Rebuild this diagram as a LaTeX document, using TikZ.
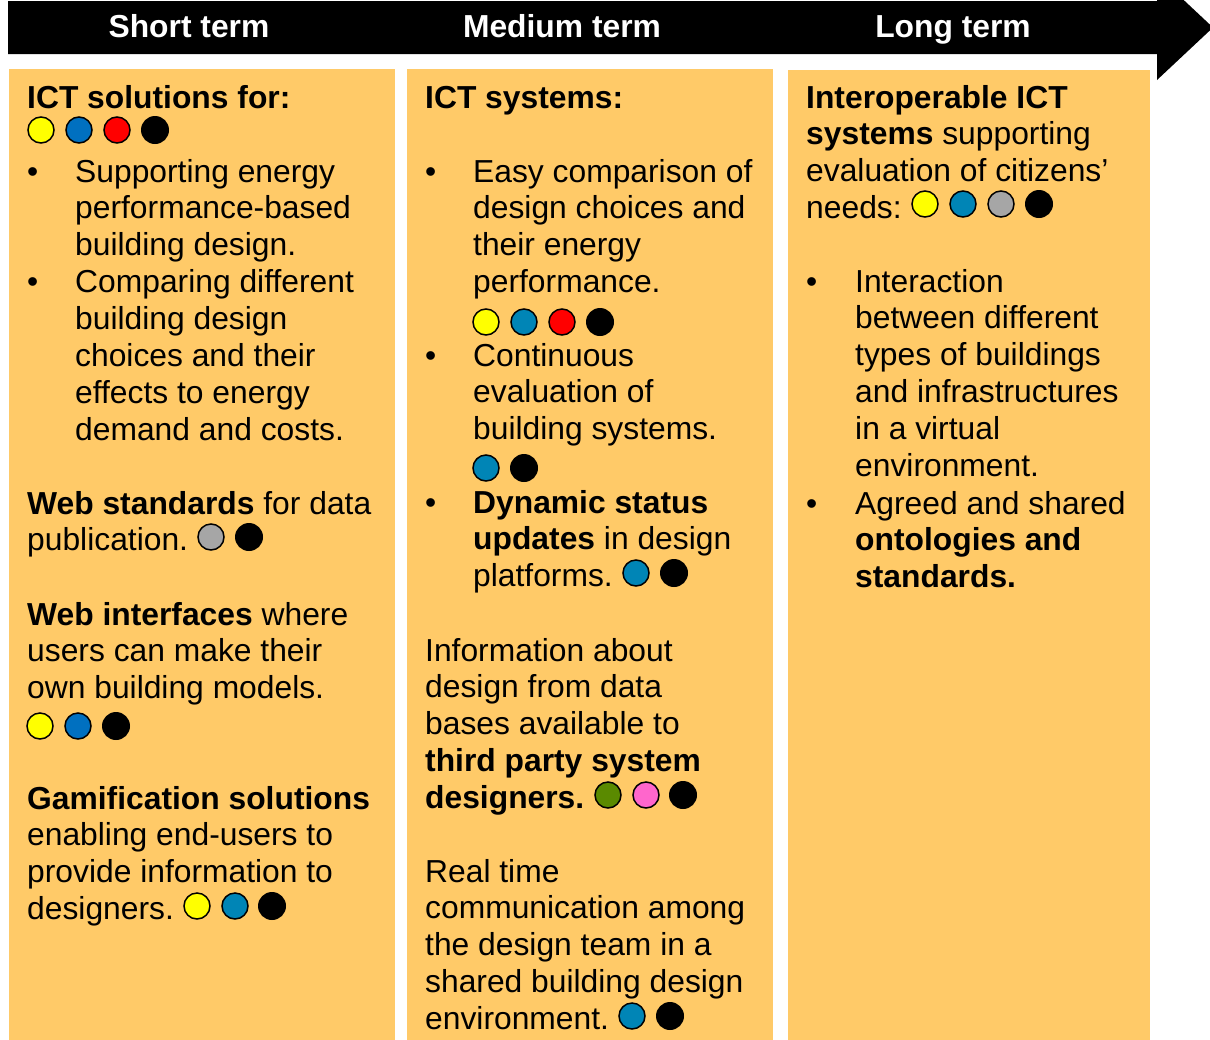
\documentclass[tikz,border=0pt]{standalone}
\usepackage{fontspec}
\setmainfont{Liberation Sans}
\definecolor{colbg}{HTML}{FFCA68}
\definecolor{cyel}{HTML}{FFFF00}
\definecolor{cblueA}{HTML}{0070C0}
\definecolor{cblueB}{HTML}{0085B6}
\definecolor{cred}{HTML}{FF0000}
\definecolor{cgray}{HTML}{A6A6A6}
\definecolor{cgreen}{HTML}{5A8A00}
\definecolor{cpink}{HTML}{FF66CC}
\tikzset{
  txt/.style={anchor=base west, inner sep=0pt, font=\fontsize{31.8}{36.9}\selectfont},
  head/.style={anchor=base, inner sep=0pt, text=white, font=\fontsize{31.8}{36.9}\selectfont\bfseries},
  colbox/.style={fill=colbg, draw=none},
  dotc/.style={draw=black, line width=1.5pt},
  dotk/.style={fill=black}
}
\newcommand{\mylines}[4]{%
  \foreach \t [count=\i] in {#4} {
    \node[txt] (#1\i) at (#2,{#3+36.9*(\i-1)}) {\t};
  }%
}
\newcommand{\mybullet}[3]{\node[txt] (#1) at (#2,#3) {\textbullet};}
\newcommand{\mydotc}[3]{\filldraw[dotc, fill=#1] (#2,#3) circle (13);}
\newcommand{\mydotk}[2]{\fill[dotk] (#1,#2) circle (14);}
\begin{document}
\begin{tikzpicture}[x=1pt,y=-1pt]
\useasboundingbox (0,0) rectangle (1210,1039);
\clip (0,0) rectangle (1210,1039);
% timeline arrow
\fill[black] (8,1) -- (1157,1) -- (1157,-25) -- (1213,27.5) -- (1157,80) -- (1157,54) -- (8,54) -- cycle;
\node[head] (hs) at (189,37) {Short term};
\node[head] (hm) at (562,37) {Medium term};
\node[head] (hl) at (953,37) {Long term};
% columns
\fill[colbox] (9,69) rectangle (395,1045);
\fill[colbox] (407,69) rectangle (773,1045);
\fill[colbox] (788,70) rectangle (1150,1045);
% ---------- column 1 ----------
\node[txt] (c1t) at (27,108) {\bfseries ICT solutions for:};
\mydotc{cyel}{41}{130} \mydotc{cblueA}{79}{130} \mydotc{cred}{117}{130} \mydotk{155}{130}
\mybullet{c1bA}{27}{182}
\mybullet{c1bB}{27}{292.7}
\mylines{c1l}{75}{182}{Supporting energy, performance-based, building design., Comparing different, building design, choices and their, effects to energy, demand and costs.}
\mylines{c1w}{27}{514}{{\bfseries Web standards} for data, publication.}
\mydotc{cgray}{211}{537} \mydotk{249}{537}
\mylines{c1i}{27}{625}{{\bfseries Web interfaces} where, users can make their, own building models.}
\mydotc{cyel}{40}{726} \mydotc{cblueA}{78}{726} \mydotk{116}{726}
\mylines{c1g}{27}{809}{{\bfseries Gamification solutions}, enabling end-users to, provide information to, designers.}
\mydotc{cyel}{197}{906} \mydotc{cblueB}{235}{906} \mydotk{272}{906}
% ---------- column 2 ----------
\node[txt] (c2t) at (425,108) {\bfseries ICT systems:};
\mybullet{c2bA}{425}{182}
\mylines{c2a}{473}{182}{Easy comparison of, design choices and, their energy, performance.}
\mydotc{cyel}{486}{322} \mydotc{cblueB}{524}{322} \mydotc{cred}{562}{322} \mydotk{600}{322}
\mybullet{c2bB}{425}{366}
\mylines{c2b}{473}{366}{Continuous, evaluation of, building systems.}
\mydotc{cblueB}{486}{468} \mydotk{524}{468}
\mybullet{c2bC}{425}{513}
\mylines{c2c}{473}{513}{{\bfseries Dynamic status}, {\bfseries updates} in design, platforms.}
\mydotc{cblueB}{636}{573} \mydotk{674}{573}
\mylines{c2d}{425}{661}{Information about, design from data, bases available to, {\bfseries third party system}, {\bfseries designers.}}
\mydotc{cgreen}{608}{795} \mydotc{cpink}{646}{795} \mydotk{683}{795}
\mylines{c2e}{425}{882}{Real time, communication among, the design team in a, shared building design, environment.}
\mydotc{cblueB}{632}{1016} \mydotk{670}{1016}
% ---------- column 3 ----------
\mylines{c3t}{806}{108}{{\bfseries Interoperable ICT}, {\bfseries systems} supporting, evaluation of citizens’, needs:}
\mydotc{cyel}{925}{204} \mydotc{cblueB}{963}{204} \mydotc{cgray}{1001}{204} \mydotk{1039}{204}
\mybullet{c3bA}{806}{292}
\mylines{c3a}{855}{292}{Interaction, between different, types of buildings, and infrastructures, in a virtual, environment.}
\mybullet{c3bB}{806}{514}
\mylines{c3b}{855}{514}{Agreed and shared, {\bfseries ontologies and}, {\bfseries standards.}}
\end{tikzpicture}
\end{document}
